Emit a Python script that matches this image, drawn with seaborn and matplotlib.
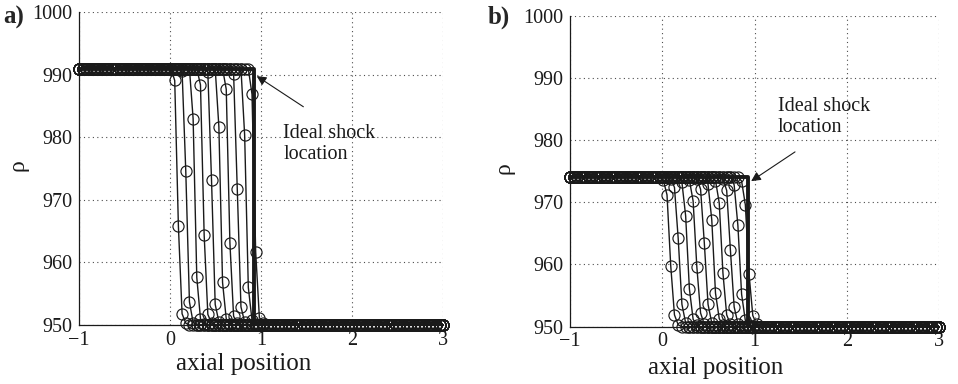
import numpy as np
import pandas as pd
import matplotlib
matplotlib.use("Agg")
import matplotlib.pyplot as plt
import seaborn as sns

# ---------------- data ----------------
x_grid = np.linspace(-1, 3, 100)          # cell positions of the numerical grid
rho_down = 950.0

# panel a
rho_up_a = 991.0
start_a = [26, 28, 31, 33, 35, 38, 40, 42, 45, 47]
trans_a = [
    [989.1, 965.8, 951.8, 950.3],
    [990.6, 974.7, 953.7, 950.4],
    [983.0, 957.6, 951.0, 950.2],
    [988.4, 964.4, 951.7, 950.3],
    [990.4, 973.2, 953.3, 950.5],
    [981.7, 956.8, 951.0, 950.2],
    [987.7, 963.1, 951.4, 950.3],
    [990.2, 971.7, 952.9, 950.5],
    [980.4, 956.0, 950.8, 950.2],
    [986.9, 961.7, 951.2, 950.3],
]
shock_x_a = 0.923

# panel b
rho_up_b = 974.1
start_b = [25, 27, 30, 32, 34, 37, 39, 41, 44, 46]
trans_b = [
    [973.6, 971.2, 959.8, 951.9, 950.3],
    [973.8, 972.4, 964.2, 953.6, 950.6],
    [973.2, 967.8, 956.1, 951.2, 950.2],
    [973.6, 970.2, 959.6, 952.2, 950.4],
    [973.8, 972.1, 963.5, 953.6, 950.6],
    [972.9, 967.2, 955.4, 951.3, 950.3],
    [973.5, 969.9, 958.6, 951.9, 950.4],
    [973.8, 971.9, 962.3, 953.2, 950.5],
    [972.8, 966.3, 955.2, 951.0, 950.2],
    [973.4, 969.6, 958.4, 951.8, 950.4],
]
shock_x_b = 0.924

x_ticks = [-1, 0, 1, 2, 3]
y_ticks = [950, 960, 970, 980, 990, 1000]


def build_profiles(starts, trans, up):
    rows = []
    n = len(x_grid)
    for p, (s, t) in enumerate(zip(starts, trans)):
        vals = [up] * s + list(t) + [rho_down] * (n - s - len(t))
        for xv, yv in zip(x_grid, vals):
            rows.append((p, xv, yv))
    return pd.DataFrame(rows, columns=["profile", "x", "rho"])


def build_ideal(xs, up):
    return pd.DataFrame({"x": [x_grid[0], xs, xs, x_grid[-1]],
                         "rho": [up, up, rho_down, rho_down]})


sns.set_theme(style="white")
plt.rcParams["font.family"] = ["Liberation Serif", "DejaVu Serif"]
plt.rcParams["mathtext.fontset"] = "stix"

fig = plt.figure(figsize=(9.58, 3.84), dpi=100)
axa = fig.add_axes([0.0825, 0.1536, 0.3803, 0.8143])
axb = fig.add_axes([0.595, 0.1492, 0.3855, 0.810])

panels = [
    (axa, start_a, trans_a, rho_up_a, shock_x_a,
     dict(xy=(0.951, 989.8), xytext=(1.463, 984.9)), (1.243, 978.9), 0.453, -0.088, -0.14),
    (axb, start_b, trans_b, rho_up_b, shock_x_b,
     dict(xy=(0.962, 973.4), xytext=(1.437, 978.1)), (1.249, 983.7), 0.395, -0.098, -0.15),
]

for ax, st, tr, up, sx, arr, txtpos, xlx, xly, ylx in panels:
    ideal = build_ideal(sx, up)
    prof = build_profiles(st, tr, up)
    sns.lineplot(data=ideal, x="x", y="rho", ax=ax, color="k", lw=2.8,
                 sort=False, estimator=None, legend=False)
    sns.lineplot(data=prof, x="x", y="rho", units="profile", estimator=None,
                 sort=False, ax=ax, color="k", lw=1.0, marker="o", markersize=8,
                 markerfacecolor="none", markeredgecolor="k", markeredgewidth=0.85,
                 legend=False, clip_on=False)
    ax.set_xlim(-1, 3)
    ax.set_ylim(950, 1000)
    ax.set_xticks(x_ticks)
    ax.set_yticks(y_ticks)
    ax.grid(True, linestyle=(0, (1, 3)), color="0.3", lw=0.8)
    ax.set_axisbelow(True)
    for s in ["top", "right"]:
        ax.spines[s].set_visible(False)
    for s in ["left", "bottom"]:
        ax.spines[s].set_color("k")
        ax.spines[s].set_linewidth(0.9)
    ax.tick_params(axis="both", length=0, labelsize=14.5, colors="k")
    ax.tick_params(axis="y", pad=4.5)
    ax.tick_params(axis="x", pad=4)
    ax.set_xlabel("axial position", fontsize=18, color="k")
    ax.xaxis.set_label_coords(xlx, xly)
    ax.set_ylabel("ρ", fontsize=17, color="k", rotation=90)
    ax.yaxis.set_label_coords(ylx, 0.51)
    ax.annotate("", xy=arr["xy"], xytext=arr["xytext"],
                arrowprops=dict(arrowstyle="-|>", color="k", lw=0.8,
                                mutation_scale=14, shrinkA=0, shrinkB=0))
    ax.text(txtpos[0], txtpos[1], "Ideal shock\nlocation", fontsize=14.5,
            ha="left", va="center", linespacing=1.15, color="k")

fig.text(3 / 958, 1 - 24 / 384, "a)", fontsize=18, fontweight="bold", ha="left", va="baseline")
fig.text(488 / 958, 1 - 24 / 384, "b)", fontsize=18, fontweight="bold", ha="left", va="baseline")

fig.savefig("out.png", dpi=100)
